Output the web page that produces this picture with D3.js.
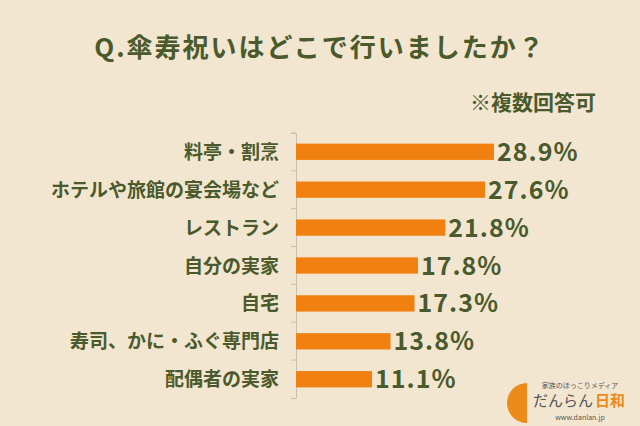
<!DOCTYPE html><html><head><meta charset="utf-8"><script src="https://cdn.jsdelivr.net/npm/d3@7"></script>
<style>body{margin:0;background:#f2e6d0}</style></head><body><svg id="c" width="640" height="426"></svg><script>
const categories=["料亭・割烹","ホテルや旅館の宴会場など","レストラン","自分の実家","自宅","寿司、かに・ふぐ専門店","配偶者の実家"];
const values=[28.9,27.6,21.8,17.8,17.3,13.8,11.1];
const svg=d3.select("#c");
const F="'Noto Sans CJK JP',sans-serif", C="#4b5a2c";
svg.append("rect").attr("width",640).attr("height",426).attr("fill","#f2e6d0");
svg.append("text").attr("x",320).attr("y",57).attr("text-anchor","middle").attr("font-family",F).attr("font-weight",700).attr("font-size",26).attr("letter-spacing",2).attr("fill",C).text("Q.傘寿祝いはどこで行いましたか？");
svg.append("text").attr("x",596).attr("y",110).attr("text-anchor","end").attr("font-family",F).attr("font-weight",700).attr("font-size",21).attr("fill",C).text("※複数回答可");
const x=d3.scaleLinear().domain([0,28.9]).range([296,494]);
const y=d3.scaleBand().domain(categories).range([133,398]).paddingInner(0.57).paddingOuter(0.28);
const ax=svg.append("g").attr("transform","translate(296,0)").call(d3.axisLeft(d3.scaleBand().domain(categories).range([133,398])).tickSize(5).tickFormat(""));
ax.selectAll("path,line").attr("stroke","#c8c0b0");
ax.selectAll(".tick line").attr("transform","translate(0,-19)");
svg.selectAll(".bar").data(values).join("rect").attr("x",x(0)).attr("y",(d,i)=>y(categories[i])).attr("width",d=>x(d)-x(0)).attr("height",y.bandwidth()).attr("fill","#f08010");
svg.selectAll(".v").data(values).join("text").attr("x",d=>x(d)+3).attr("y",(d,i)=>y(categories[i])+y.bandwidth()/2+9).attr("font-family",F).attr("font-weight",700).attr("font-size",25).attr("letter-spacing",1).attr("fill",C).text(d=>d.toFixed(1)+"%");
svg.selectAll(".l").data(categories).join("text").attr("x",279).attr("y",d=>y(d)+y.bandwidth()/2+7).attr("text-anchor","end").attr("font-family",F).attr("font-weight",700).attr("font-size",19).attr("fill",C).text(d=>d);
// logo
svg.append("path").attr("d","M527,383 A20,20 0 0,0 527,423 Z").attr("fill","#ec8a1a");
svg.append("text").attr("x",580).attr("y",388).attr("text-anchor","middle").attr("font-family",F).attr("font-size",7).attr("fill","#555").text("家族のほっこりメディア");
svg.append("text").attr("x",533).attr("y",406).attr("font-family",F).attr("font-size",15).attr("fill","#555").text("だんらん");
svg.append("text").attr("x",595).attr("y",406).attr("font-family",F).attr("font-weight",700).attr("font-size",15).attr("fill","#ec8a1a").text("日和");
svg.append("text").attr("x",580).attr("y",420).attr("text-anchor","middle").attr("font-family",F).attr("font-size",7).attr("fill","#555").text("www.danlan.jp");
</script></body></html>
